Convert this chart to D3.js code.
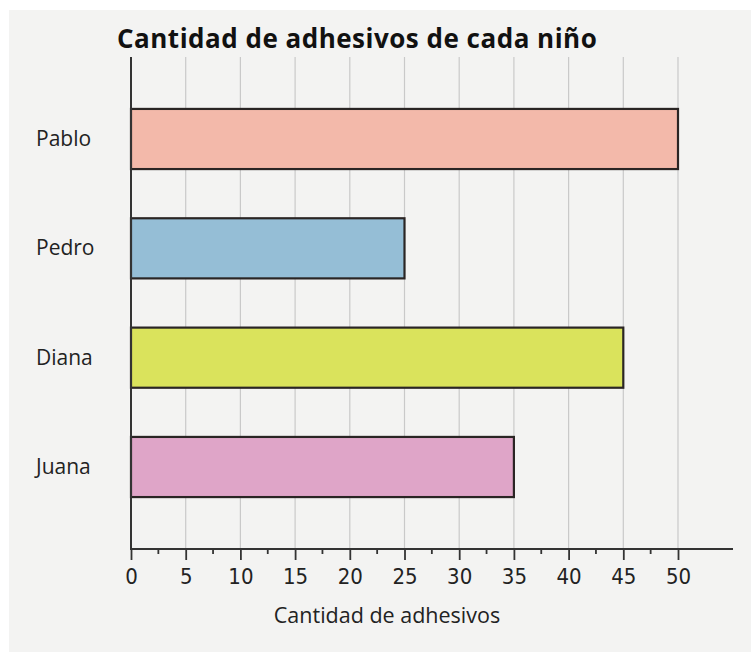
<!DOCTYPE html>
<html>
<head>
<meta charset="utf-8">
<script src="https://cdn.jsdelivr.net/npm/d3@7"></script>
<style>
  html, body { margin: 0; padding: 0; background: #fff; }
  svg { display: block; }
</style>
</head>
<body>
<svg id="chart"></svg>
<script>
// data
const names = ['Pablo', 'Pedro', 'Diana', 'Juana']
const stickers = [50, 25, 45, 35]
const barColors = ['#f3b9aa', '#95bed6', '#dae35c', '#dfa5c8']
const tickValues = [0, 5, 10, 15, 20, 25, 30, 35, 40, 45, 50]
const title = 'Cantidad de adhesivos de cada niño'
const xTitle = 'Cantidad de adhesivos'

const width = 751
const height = 652
const margin = { top: 57, left: 131, bottom: 103 }
const plotBottom = height - margin.bottom // axis line y

const svg = d3.select('#chart').attr('width', width).attr('height', height)

// page background (scanned paper)
svg.append('rect')
  .attr('x', 9).attr('y', 10)
  .attr('width', width - 9).attr('height', height - 10)
  .attr('fill', '#f3f3f2')

// scales
const x = d3.scaleLinear().domain([0, 50]).range([margin.left, 678])
const y = d3.scaleBand()
  .domain(names)
  .range([margin.top, plotBottom])
  .paddingInner(0.45)
  .paddingOuter(0.475)

// vertical grid lines
svg.append('g')
  .attr('id', 'grid')
  .selectAll('line')
  .data(tickValues.filter((d) => d > 0))
  .join('line')
  .attr('x1', (d) => x(d)).attr('x2', (d) => x(d))
  .attr('y1', margin.top).attr('y2', plotBottom)
  .attr('stroke', '#c9c9c9')
  .attr('stroke-width', 1.2)

// bars
svg.append('g')
  .attr('id', 'bars')
  .selectAll('rect')
  .data(names)
  .join('rect')
  .attr('x', x(0))
  .attr('y', (d) => y(d))
  .attr('width', (d, i) => x(stickers[i]) - x(0))
  .attr('height', y.bandwidth())
  .attr('fill', (d, i) => barColors[i])
  .attr('stroke', '#2a2524')
  .attr('stroke-width', 2.2)

// category labels
svg.append('g')
  .attr('id', 'labels')
  .selectAll('text')
  .data(names)
  .join('text')
  .attr('x', 36)
  .attr('y', (d) => y(d) + y.bandwidth() / 2 - 1)
  .attr('dominant-baseline', 'central')
  .attr('font-family', '"Open Sans", sans-serif')
  .attr('font-size', 21)
  .attr('fill', '#222')
  .text((d) => d)

// y axis line
svg.append('line')
  .attr('x1', x(0)).attr('x2', x(0))
  .attr('y1', margin.top).attr('y2', plotBottom)
  .attr('stroke', '#333').attr('stroke-width', 2)

// x axis: major ticks every 5, minor every 2.5
const xAxis = d3.axisBottom(x)
  .tickValues(tickValues)
  .tickSize(11)
  .tickSizeOuter(0)
  .tickPadding(8)

const axisG = svg.append('g')
  .attr('transform', `translate(0,${plotBottom})`)
  .call(xAxis)

axisG.select('.domain').remove()
axisG.selectAll('.tick line').attr('stroke', '#333').attr('stroke-width', 1.8)
axisG.selectAll('.tick text')
  .attr('font-family', '"Liberation Sans Narrow", "DejaVu Sans Condensed", sans-serif')
  .attr('font-size', 22)
  .attr('fill', '#222')

axisG.selectAll('.minor')
  .data(d3.range(2.5, 50, 5))
  .join('line')
  .attr('class', 'minor')
  .attr('x1', (d) => x(d)).attr('x2', (d) => x(d))
  .attr('y1', 0).attr('y2', 5)
  .attr('stroke', '#333').attr('stroke-width', 1.8)

axisG.append('line')
  .attr('x1', x(0) - 1).attr('x2', 733)
  .attr('y1', 0).attr('y2', 0)
  .attr('stroke', '#333').attr('stroke-width', 2)

// axis title
svg.append('text')
  .attr('x', 387)
  .attr('y', 623)
  .attr('text-anchor', 'middle')
  .attr('font-family', '"Open Sans", sans-serif')
  .attr('font-size', 21.5)
  .attr('fill', '#222')
  .text(xTitle)

// chart title
svg.append('text')
  .attr('x', 117)
  .attr('y', 48)
  .attr('font-family', '"Open Sans", sans-serif')
  .attr('font-weight', 'bold')
  .attr('font-size', 26)
  .attr('letter-spacing', 0.5)
  .attr('fill', '#111')
  .text(title)
</script>
</body>
</html>
